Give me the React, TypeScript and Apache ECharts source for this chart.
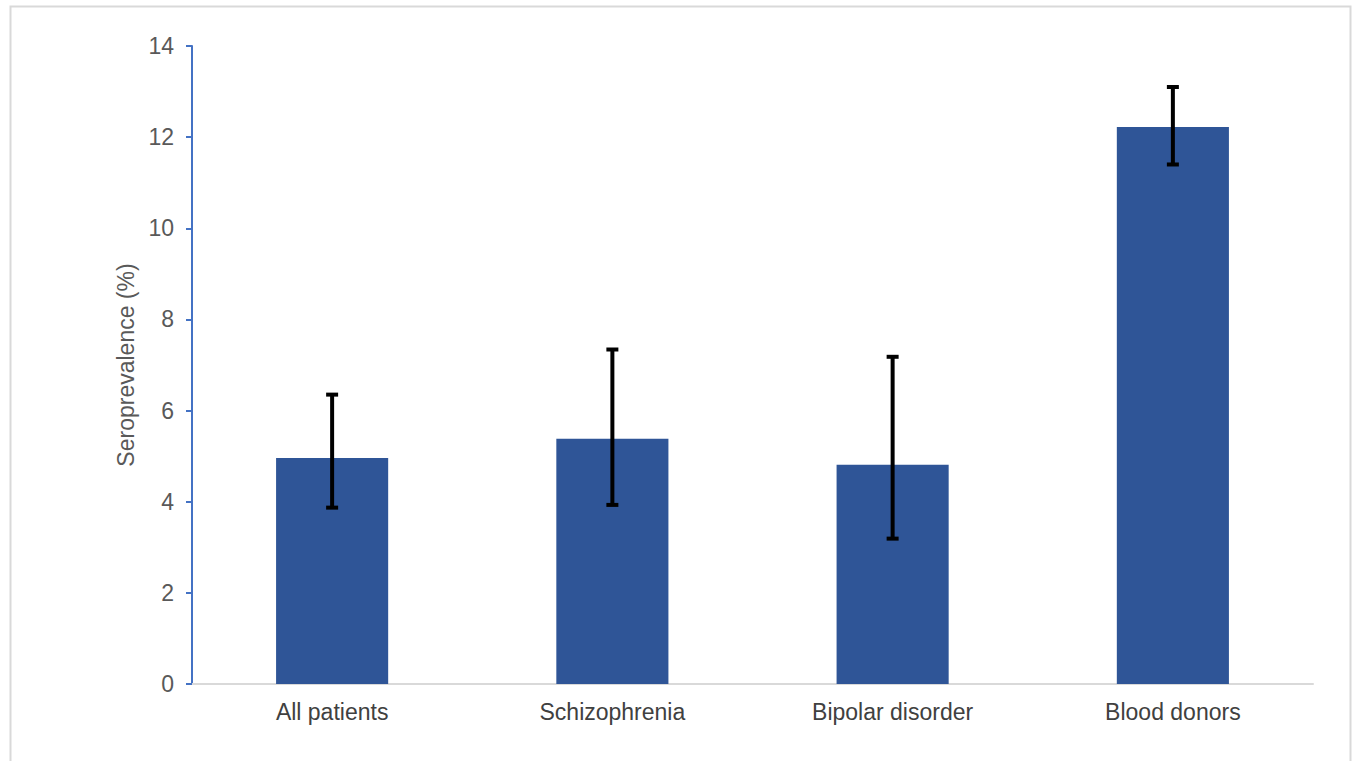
import React, { useEffect, useRef } from "react";
import * as echarts from "echarts";

const categories = ["All patients", "Schizophrenia", "Bipolar disorder", "Blood donors"];
const values = [4.96, 5.38, 4.81, 12.22];
const errLow = [3.87, 3.93, 3.19, 11.4];
const errHigh = [6.35, 7.34, 7.18, 13.1];
const yTicks = { min: 0, max: 14, interval: 2 };

export default function App() {
  const ref = useRef<HTMLDivElement>(null);
  useEffect(() => {
    if (!ref.current) return;
    const chart = echarts.init(ref.current, undefined, { renderer: "svg" });
    const font = "'Liberation Sans', Arial, sans-serif";
    chart.setOption({
      animation: false,
      backgroundColor: "#ffffff",
      graphic: [
        {
          type: "rect",
          shape: { x: 10.5, y: 6.5, width: 1340, height: 770 },
          style: { fill: "none", stroke: "#d9d9d9", lineWidth: 2 },
          silent: true,
        },
      ],
      grid: { left: 192, right: 41, top: 46, bottom: 77, containLabel: false },
      xAxis: {
        type: "category",
        data: categories,
        axisLine: { show: true, lineStyle: { color: "#d9d9d9", width: 2 } },
        axisTick: { show: false },
        axisLabel: { color: "#404040", fontSize: 23, fontFamily: font, margin: 16 },
      },
      yAxis: {
        type: "value",
        min: yTicks.min,
        max: yTicks.max,
        interval: yTicks.interval,
        name: "Seroprevalence (%)",
        nameLocation: "middle",
        nameRotate: 90,
        nameGap: 55,
        nameTextStyle: { color: "#595959", fontSize: 23, fontFamily: font },
        axisLine: { show: true, lineStyle: { color: "#4472c4", width: 2 } },
        axisTick: { show: true, length: 6, lineStyle: { color: "#4472c4", width: 2 } },
        axisLabel: { color: "#595959", fontSize: 23, fontFamily: font, margin: 18 },
        splitLine: { show: false },
      },
      series: [
        {
          type: "bar",
          data: values,
          barWidth: "40%",
          itemStyle: { color: "#2f5597" },
        },
        {
          type: "custom",
          data: categories.map((_, i) => [i, errLow[i], errHigh[i]]),
          encode: { x: 0, y: [1, 2] },
          z: 10,
          renderItem: (params: any, api: any) => {
            const i = api.value(0);
            const lo = api.coord([i, api.value(1)]);
            const hi = api.coord([i, api.value(2)]);
            const half = 6;
            const style = { stroke: "#000000", lineWidth: 4 };
            return {
              type: "group",
              children: [
                { type: "line", shape: { x1: hi[0], y1: hi[1], x2: lo[0], y2: lo[1] }, style },
                { type: "line", shape: { x1: hi[0] - half, y1: hi[1], x2: hi[0] + half, y2: hi[1] }, style },
                { type: "line", shape: { x1: lo[0] - half, y1: lo[1], x2: lo[0] + half, y2: lo[1] }, style },
              ],
            };
          },
        },
      ],
    });
    return () => chart.dispose();
  }, []);
  return (
    <div
      ref={ref}
      style={{ position: "fixed", left: 0, top: 0, width: 1354, height: 761 }}
    />
  );
}
